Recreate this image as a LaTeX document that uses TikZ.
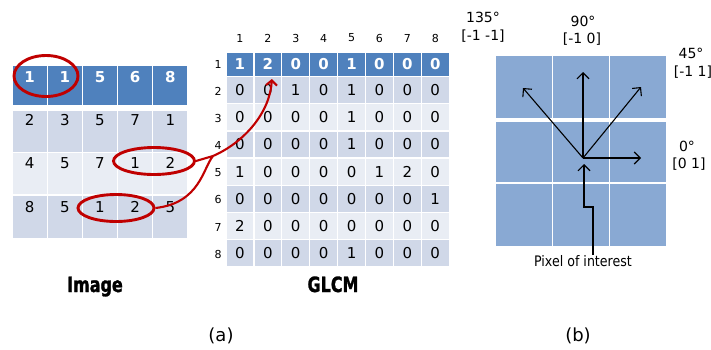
\documentclass[tikz,border=0pt]{standalone}
\usepackage{fontspec}
\setmainfont{DejaVu Sans}
\newfontfamily\titlefont{DejaVu Sans}[FakeStretch=0.76,FakeBold=1.2]
\newfontfamily\narrowfont{DejaVu Sans}[FakeStretch=0.87]
\usetikzlibrary{shapes.geometric,arrows.meta}
\definecolor{hdr}{RGB}{79,129,189}
\definecolor{rowdark}{RGB}{208,216,232}
\definecolor{rowlight}{RGB}{233,237,244}
\definecolor{gridblue}{RGB}{137,169,211}
\definecolor{ringred}{RGB}{192,0,0}

\begin{document}
\begin{tikzpicture}[x=1pt,y=-1pt,
  val/.style={font=\fontsize{15}{18}\selectfont, inner sep=0pt},
  hval/.style={font=\fontsize{15}{18}\selectfont\bfseries, text=white, inner sep=0pt},
  idx/.style={font=\fontsize{11}{13}\selectfont, inner sep=0pt},
  cellbox/.style={draw=white, line width=1.3pt},
  ring/.style={draw=ringred, line width=2.9pt, ellipse, inner sep=0pt},
  link/.style={draw=ringred, line width=2.1pt},
  dir/.style={draw=black, line width=1.1pt, -{Straight Barb[length=6pt,width=12pt,line width=1.1pt]}},
  lab/.style={font=\fontsize{14}{16}\selectfont, inner sep=0pt},
  caption/.style={font={\titlefont\fontsize{21}{24}\selectfont\bfseries}, inner sep=0pt},
  sub/.style={font=\fontsize{18}{20}\selectfont, inner sep=0pt}]

\path[use as bounding box, fill=white] (0,0) rectangle (711,349);

% ---------- image block ----------
\foreach \i in {0,...,4}{
  \fill[hdr, cellbox] (12+35.2*\i,65) rectangle +(35.2,41);
  \fill[rowdark, cellbox] (12+35.2*\i,110) rectangle +(35.2,42.5);
  \fill[rowlight, cellbox] (12+35.2*\i,152.5) rectangle +(35.2,42.5);
  \fill[rowdark, cellbox] (12+35.2*\i,195) rectangle +(35.2,44);
}
\foreach \v [count=\j from 0] in {1,1,5,6,8}
  \node[hval] (im-1-\j) at (29.6+35.2*\j,77) {\v};
\foreach \v [count=\j from 0] in {2,3,5,7,1}
  \node[val] (im-2-\j) at (29.6+35.2*\j,120) {\v};
\foreach \v [count=\j from 0] in {4,5,7,1,2}
  \node[val] (im-3-\j) at (29.6+35.2*\j,163) {\v};
\foreach \v [count=\j from 0] in {8,5,1,2,5}
  \node[val] (im-4-\j) at (29.6+35.2*\j,207) {\v};

\node[ring, minimum width=64pt, minimum height=41pt] (r1) at (46,76) {};
\node[ring, minimum width=81pt, minimum height=27pt] (r2) at (154,161) {};
\node[ring, minimum width=76pt, minimum height=27pt] (r3) at (116,208) {};

\node[caption, anchor=base] (imgcap) at (95,292) {Image};

% ---------- co-occurrence matrix ----------
\foreach \j in {1,...,8}{
  \node[idx] (col-\j) at (226+27.9*\j-13.95,38) {\j};
  \fill[hdr, cellbox] (226+27.9*\j-27.9,52) rectangle +(27.9,24.5);
}
\foreach \k in {2,...,8}{
  \pgfmathsetmacro{\shade}{mod(\k,2)==0 ? "rowdark" : "rowlight"}
  \foreach \j in {1,...,8}
    \fill[\shade, cellbox] (226+27.9*\j-27.9,76.5+27.2*\k-54.4) rectangle +(27.9,27.2);
}
\node[idx] (row-1) at (218,64) {1};
\foreach \k in {2,...,8}
  \node[idx] (row-\k) at (218,91+27.2*\k-54.4) {\k};

\foreach \v [count=\j] in {1,2,0,0,1,0,0,0}
  \node[hval] (g-1-\j) at (226+27.9*\j-13.95,64) {\v};
\foreach \row [count=\k from 2] in {{0,0,1,0,1,0,0,0},{0,0,0,0,1,0,0,0},{0,0,0,0,1,0,0,0},
    {1,0,0,0,0,1,2,0},{0,0,0,0,0,0,0,1},{2,0,0,0,0,0,0,0},{0,0,0,0,1,0,0,0}}
  \foreach \v [count=\j] in \row
    \node[val] (g-\k-\j) at (226+27.9*\j-13.95,90+27.2*\k-54.4) {\v};

\node[caption, anchor=base] (glcmcap) at (333,292) {GLCM};

% red links from the ringed pairs to their matrix entry
\coordinate (join) at (213,156);
\coordinate (tip) at ([xshift=4pt]g-1-2.south |- 0,79);
\draw[link] (r2.east) .. controls (204,159) .. (join);
\draw[link] (r3.east) .. controls (200,203) and (203,168) .. (join);
\draw[link, -{Straight Barb[length=5pt,width=11pt,line width=2.1pt]}]
  (join) .. controls (245,142) and (270,112) .. (tip);

% ---------- neighbourhood directions ----------
\foreach \i in {0,1,2}{
  \fill[gridblue, cellbox] (495+57.33*\i,55) rectangle +(57.33,63.5);
  \fill[gridblue, cellbox] (495+57.33*\i,121) rectangle +(57.33,62);
  \fill[gridblue, cellbox] (495+57.33*\i,183) rectangle +(57.33,64);
}
\coordinate (poi) at (583,158);
\coordinate (d135) at (523,88);
\coordinate (d90) at (583,72);
\coordinate (d45) at (641,87);
\coordinate (d0) at (641,158);
\foreach \d in {d135,d90,d45,d0}
  \draw[dir] (poi) -- (\d);

\node[font=\narrowfont\fontsize{14.5}{16}\selectfont, inner sep=0pt] (pix) at (583,261) {Pixel of interest};
\coordinate (bend) at (593,207);
\draw[dir] (pix.north -| bend) -- (bend) -- (584,207) -- (584,164);

\node[lab] (t135) at (483,17) {135°};
\node[lab] (v135) at (483,36) {[-1 -1]};
\node[lab] (t90) at (583,21) {90°};
\node[lab] (v90) at (582,39) {[-1 0]};
\node[lab] (t45) at (691,53) {45°};
\node[lab] (v45) at (693,72) {[-1 1]};
\node[lab] (t0) at (687,146) {0°};
\node[lab] (v0) at (689,164) {[0 1]};

\node[sub] (suba) at (221,336) {(a)};
\node[sub] (subb) at (578,336) {(b)};
\end{tikzpicture}
\end{document}
